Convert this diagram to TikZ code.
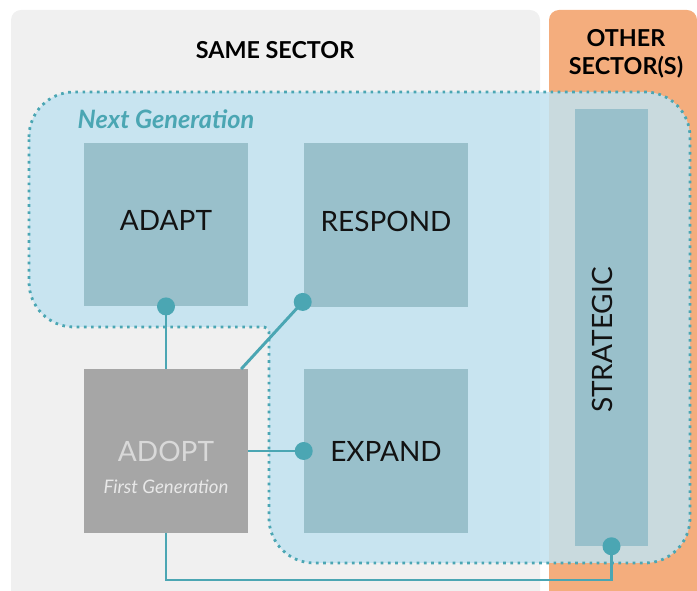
\documentclass[tikz,border=0pt]{standalone}
\usepackage{fontspec}
\setmainfont{Lato}
\usetikzlibrary{calc}
\definecolor{panelgray}{HTML}{F0F0F0}
\definecolor{panelorange}{HTML}{F4AD7D}
\definecolor{zonefill}{HTML}{C2E2F0}
\definecolor{accent}{HTML}{4BA6B3}
\definecolor{boxblue}{HTML}{99C0CB}
\definecolor{boxgray}{HTML}{A6A6A6}
\begin{document}
\begin{tikzpicture}[x=0.75pt,y=-0.75pt,
  stage/.style={fill=boxblue, minimum width=123pt, minimum height=122.5pt,
    inner sep=0pt, font=\fontsize{21}{24}\selectfont, text=black!93},
  link/.style={draw=accent, line width=2.2pt},
  knob/.style={circle, fill=accent, minimum size=13.5pt, inner sep=0pt},
  heading/.style={font=\fontsize{17.5}{21}\selectfont\bfseries, align=center}]
\useasboundingbox (0,0) rectangle (697,591);

% sector panels
\begin{scope}
  \clip (0,0) rectangle (697,591);
  \fill[panelgray, rounded corners=7.5pt] (11,10) rectangle (540,620);
  \fill[panelorange, rounded corners=7.5pt] (549,10) rectangle (697,620);
\end{scope}

% next-generation zone (stepped outline)
\path[fill=zonefill, fill opacity=.85, draw=accent, line width=2.1pt,
      dash pattern=on 2pt off 3.4pt]
  (29,137) arc[start angle=180, end angle=270, radius=45]
  -- (645,92) arc[start angle=270, end angle=360, radius=45]
  -- (690,518) arc[start angle=0, end angle=90, radius=45]
  -- (314,563) arc[start angle=90, end angle=180, radius=45]
  -- (269,332) arc[start angle=0, end angle=-90, radius=5]
  -- (74,327) arc[start angle=90, end angle=180, radius=45]
  -- cycle;

% headings
\node[heading] (samesec) at (275,50) {SAME SECTOR};
\node[heading] (othersec) at (626,54) {OTHER\\SECTOR(S)};
\node[font=\fontsize{19}{22}\selectfont\bfseries\itshape, text=accent] (nextgen) at (166,119) {Next Generation};

% stages
\node[stage, text depth=6pt] (adapt) at (166,224.5) {ADAPT};
\node[stage, text depth=6pt] (respond) at (386,225) {RESPOND};
\node[stage] (expand) at (386,451) {EXPAND};
\node[stage, fill=boxgray, text=white!85!black] (adopt) at (166,451) {ADOPT};
\node[font=\fontsize{14}{16}\selectfont\itshape, text=white!91!black] (firstgen) at (166,487) {First Generation};
\node[fill=boxblue, minimum width=54.75pt, minimum height=327.75pt, inner sep=0pt] (strategic) at (611.5,327.5) {};
\node[rotate=90, font=\fontsize{21}{24}\selectfont, text=black!93] (strategictext) at (602.5,340) {STRATEGIC};

% connector end points
\coordinate (adaptend) at (adapt.south);
\coordinate (respondend) at ($(respond.south west)+(-1,-5)$);
\coordinate (expandend) at (expand.west);
\coordinate (strategicend) at (strategic.south);
\coordinate (bend) at (611.5,580);

% connectors
\draw[link] (adaptend) -- (adopt.north);
\draw[link] (respondend) -- (adopt);
\draw[link] (adopt.east) -- (expandend);
\draw[link] (adopt.south) |- (bend) -- (strategicend);

\node[knob] (adaptknob) at (adaptend) {};
\node[knob] (respondknob) at (respondend) {};
\node[knob] (expandknob) at (expandend) {};
\node[knob] (strategicknob) at (strategicend) {};
\end{tikzpicture}
\end{document}
